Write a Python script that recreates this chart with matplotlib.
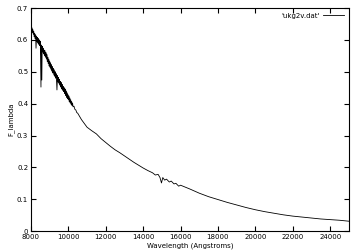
import numpy as np
import matplotlib
matplotlib.use("Agg")
import matplotlib.pyplot as plt
from matplotlib.ticker import FuncFormatter

# noisy blue part of the spectrum, (Angstroms, flux)
blue = [(8000, .642), (8025, .630), (8050, .638), (8075, .624), (8100, .632),
        (8125, .618), (8150, .626), (8175, .610), (8200, .620), (8225, .604),
        (8250, .616), (8270, .574), (8300, .612), (8325, .596), (8350, .608),
        (8375, .590), (8400, .604), (8425, .586), (8450, .600), (8475, .582),
        (8500, .596), (8535, .452), (8550, .584), (8580, .474), (8600, .580),
        (8625, .562), (8650, .574), (8675, .556), (8700, .568), (8725, .550),
        (8750, .566), (8775, .546), (8800, .560), (8825, .540), (8850, .554),
        (8875, .532), (8900, .546), (8925, .526), (8950, .540), (8975, .518),
        (9000, .534), (9025, .514), (9050, .528), (9075, .508), (9100, .522),
        (9125, .502), (9150, .516), (9175, .496), (9200, .510), (9225, .490),
        (9250, .506), (9275, .486), (9300, .500), (9325, .480), (9350, .494),
        (9390, .443), (9420, .488), (9450, .468), (9475, .482), (9500, .464),
        (9525, .476), (9550, .458), (9575, .470), (9600, .452), (9625, .466),
        (9650, .446), (9675, .460), (9700, .442), (9725, .454), (9750, .438),
        (9775, .450), (9800, .432), (9825, .446), (9850, .426), (9875, .440),
        (9900, .420), (9925, .434), (9950, .416), (9975, .428), (10000, .412),
        (10025, .424), (10050, .406), (10075, .418), (10100, .402), (10125, .412),
        (10150, .398), (10175, .406), (10200, .394), (10225, .402), (10250, .390),
        (10300, .392), (10350, .382), (10400, .380), (10450, .372), (10500, .370),
        (10600, .360), (10700, .350), (10800, .342), (10900, .334), (11000, .326)]

# smoother red part
red = [(11250, .315), (11500, .305), (11750, .290), (12000, .278), (12250, .266),
       (12500, .255), (12750, .246), (13000, .236), (13250, .226), (13500, .216),
       (13750, .207), (14000, .198), (14250, .190), (14500, .183), (14650, .176),
       (14800, .178), (14900, .168), (14980, .151), (15050, .168), (15150, .160),
       (15250, .163), (15400, .154), (15500, .157), (15650, .148), (15750, .150),
       (15900, .141), (16000, .144), (16500, .132), (17000, .119), (17500, .108),
       (18000, .099), (18500, .090), (19000, .082), (19500, .074), (20000, .067),
       (20500, .061), (21000, .056), (21500, .051), (22000, .047), (22500, .044),
       (23000, .041), (23500, .038), (24000, .036), (24500, .034), (25000, .031)]

wave = [w for w, f in blue + red]
flux = [f for w, f in blue + red]

plt.rcParams['font.family'] = 'DejaVu Sans'
plt.rcParams['font.size'] = 5

fig = plt.figure(figsize=(3.6, 2.52), dpi=100)
ax = fig.add_axes([0.086, 0.083, 0.883, 0.885])

ax.plot(wave, flux, color='black', linewidth=0.6, label="'ukg2v.dat'")

ax.set_xlim(8000, 25000)
ax.set_ylim(0, 0.7)
ax.set_xticks(np.arange(8000, 24001, 2000))
ax.set_yticks(np.arange(0, 0.71, 0.1))
ax.yaxis.set_major_formatter(FuncFormatter(lambda v, p: '0' if abs(v) < 1e-9 else '%.1f' % v))
ax.tick_params(direction='in', top=True, right=True, length=3.5, width=0.8, pad=2, labelsize=5)
for s in ax.spines.values():
    s.set_linewidth(0.8)

ax.set_xlabel('Wavelength (Angstroms)', fontsize=5, labelpad=2)
ax.set_ylabel('F_lambda', fontsize=5, labelpad=2)

ax.legend(loc='upper right', frameon=False, markerfirst=False, fontsize=5,
          handlelength=3, borderaxespad=0.3, handletextpad=0.5)

fig.savefig('out.png', dpi=100)
